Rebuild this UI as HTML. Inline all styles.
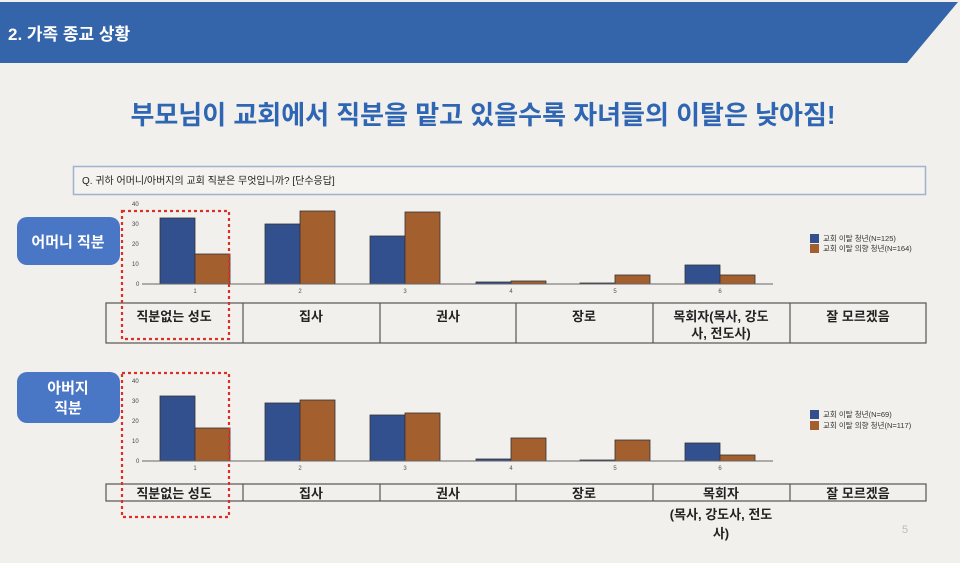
<!DOCTYPE html>
<html><head><meta charset="utf-8"><style>
body{margin:0;width:960px;height:558px;overflow:hidden;background:#f2f0ec;font-family:"Liberation Sans","Noto Sans CJK KR",sans-serif}
</style></head><body>
<svg width="960" height="558" xmlns="http://www.w3.org/2000/svg" font-family="Liberation Sans, Noto Sans CJK KR, sans-serif">
<rect width="960" height="558" fill="#f2f0ec"/>
<polygon points="0,2 958,2 907,63 0,63" fill="#3464a9"/>
<text x="8" y="40" font-size="17" font-weight="bold" fill="#fff">2. 가족 종교 상황</text>
<text x="483" y="124" font-size="26" font-weight="bold" fill="#2f66b3" text-anchor="middle">부모님이 교회에서 직분을 맡고 있을수록 자녀들의 이탈은 낮아짐!</text>
<rect x="73.5" y="166.5" width="852" height="28" fill="#f4f3f0" stroke="#9fb2cf" stroke-width="1.5"/>
<text x="82" y="184" font-size="10" fill="#222">Q. 귀하 어머니/아버지의 교회 직분은 무엇입니까? [단수응답]</text>
<rect x="17" y="217" width="103" height="48" rx="10" fill="#4a76c6"/>
<text x="68" y="247" font-size="15" font-weight="bold" fill="#fff" text-anchor="middle">어머니 직분</text>
<rect x="17" y="372" width="103" height="51" rx="10" fill="#4a76c6"/>
<text x="68" y="393" font-size="15" font-weight="bold" fill="#fff" text-anchor="middle">아버지</text>
<text x="68" y="413" font-size="15" font-weight="bold" fill="#fff" text-anchor="middle">직분</text>
<g font-size="6" fill="#444">
<text x="132" y="206">40</text><text x="132" y="226">30</text><text x="132" y="246">20</text><text x="132" y="266">10</text><text x="136" y="286">0</text>
<text x="132" y="383">40</text><text x="132" y="403">30</text><text x="132" y="423">20</text><text x="132" y="443">10</text><text x="136" y="463">0</text>
</g>
<g stroke="#333" stroke-width="0.8">
<rect x="160" y="218" width="35" height="66" fill="#33508e"/><rect x="195" y="254" width="35" height="30" fill="#a35f2e"/>
<rect x="265" y="224" width="35" height="60" fill="#33508e"/><rect x="300" y="211" width="35" height="73" fill="#a35f2e"/>
<rect x="370" y="236" width="35" height="48" fill="#33508e"/><rect x="405" y="212" width="35" height="72" fill="#a35f2e"/>
<rect x="476" y="282" width="35" height="2" fill="#33508e"/><rect x="511" y="281" width="35" height="3" fill="#a35f2e"/>
<rect x="580" y="283" width="35" height="1" fill="#33508e"/><rect x="615" y="275" width="35" height="9" fill="#a35f2e"/>
<rect x="685" y="265" width="35" height="19" fill="#33508e"/><rect x="720" y="275" width="35" height="9" fill="#a35f2e"/>
<rect x="160" y="396" width="35" height="65" fill="#33508e"/><rect x="195" y="428" width="35" height="33" fill="#a35f2e"/>
<rect x="265" y="403" width="35" height="58" fill="#33508e"/><rect x="300" y="400" width="35" height="61" fill="#a35f2e"/>
<rect x="370" y="415" width="35" height="46" fill="#33508e"/><rect x="405" y="413" width="35" height="48" fill="#a35f2e"/>
<rect x="476" y="459" width="35" height="2" fill="#33508e"/><rect x="511" y="438" width="35" height="23" fill="#a35f2e"/>
<rect x="580" y="460" width="35" height="1" fill="#33508e"/><rect x="615" y="440" width="35" height="21" fill="#a35f2e"/>
<rect x="685" y="443" width="35" height="18" fill="#33508e"/><rect x="720" y="455" width="35" height="6" fill="#a35f2e"/>
</g>
<line x1="142" y1="284" x2="773" y2="284" stroke="#666" stroke-width="1"/>
<line x1="142" y1="461" x2="773" y2="461" stroke="#666" stroke-width="1"/>
<g font-size="6" fill="#555" text-anchor="middle">
<text x="195" y="293">1</text><text x="300" y="293">2</text><text x="405" y="293">3</text><text x="511" y="293">4</text><text x="615" y="293">5</text><text x="720" y="293">6</text>
<text x="195" y="470">1</text><text x="300" y="470">2</text><text x="405" y="470">3</text><text x="511" y="470">4</text><text x="615" y="470">5</text><text x="720" y="470">6</text>
</g>
<g font-size="7.5" fill="#333">
<rect x="810" y="234" width="9" height="9" fill="#33508e"/><text x="823" y="241">교회 이탈 청년(N=125)</text>
<rect x="810" y="244" width="9" height="9" fill="#a35f2e"/><text x="823" y="251">교회 이탈 의향 청년(N=164)</text>
<rect x="810" y="410" width="9" height="9" fill="#33508e"/><text x="823" y="417">교회 이탈 청년(N=69)</text>
<rect x="810" y="421" width="9" height="9" fill="#a35f2e"/><text x="823" y="428">교회 이탈 의향 청년(N=117)</text>
</g>
<g stroke="#555" stroke-width="1.2" fill="none">
<rect x="106" y="303" width="820" height="40"/>
<line x1="243" y1="303" x2="243" y2="343"/><line x1="380" y1="303" x2="380" y2="343"/><line x1="516" y1="303" x2="516" y2="343"/><line x1="653" y1="303" x2="653" y2="343"/><line x1="790" y1="303" x2="790" y2="343"/>
<rect x="106" y="484" width="820" height="17"/>
<line x1="243" y1="484" x2="243" y2="501"/><line x1="380" y1="484" x2="380" y2="501"/><line x1="516" y1="484" x2="516" y2="501"/><line x1="653" y1="484" x2="653" y2="501"/><line x1="790" y1="484" x2="790" y2="501"/>
</g>
<g font-size="13" font-weight="bold" fill="#222" text-anchor="middle">
<text x="174" y="321">직분없는 성도</text><text x="311" y="321">집사</text><text x="448" y="321">권사</text><text x="584" y="321">장로</text>
<text x="721" y="321">목회자(목사, 강도</text><text x="721" y="338">사, 전도사)</text><text x="858" y="321">잘 모르겠음</text>
<text x="174" y="498">직분없는 성도</text><text x="311" y="498">집사</text><text x="448" y="498">권사</text><text x="584" y="498">장로</text>
<text x="721" y="498">목회자</text><text x="721" y="519">(목사, 강도사, 전도</text><text x="721" y="538">사)</text><text x="858" y="498">잘 모르겠음</text>
</g>
<g stroke="#d8312a" stroke-width="2.2" stroke-dasharray="3,3" fill="none">
<rect x="122" y="211" width="107" height="128"/>
<rect x="122" y="373" width="107" height="144"/>
</g>
<text x="905" y="533" font-size="11" fill="#bbb" text-anchor="middle">5</text>
</svg>
</body></html>
